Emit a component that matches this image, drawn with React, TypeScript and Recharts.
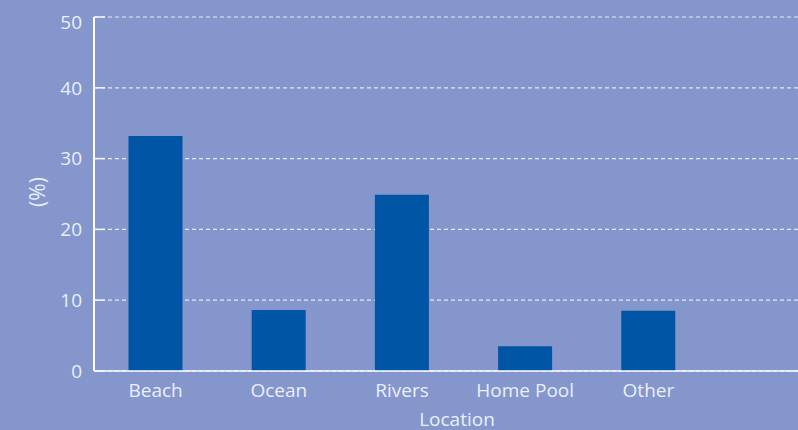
import React from 'react';
import { BarChart, Bar, XAxis, YAxis, CartesianGrid, Label } from 'recharts';

const categories = ['Beach', 'Ocean', 'Rivers', 'Home Pool', 'Other'];
const percentValues = [33.2, 8.6, 24.9, 3.5, 8.5];
const yTicks = [0, 10, 20, 30, 40, 50];

const data = categories.map((name, i) => ({ name, value: percentValues[i] }));

const BG = '#8496CC';
const BAR = '#0055A5';
const TEXT = '#EAEFF9';
const FONT = '"Open Sans", "Noto Sans", sans-serif';
const TICK_MARGIN = 12;

const YTick = (props: any) => {
  const { x, y, payload } = props;
  const axisX = x + TICK_MARGIN;
  const textY = Math.max(y, 22);
  return (
    <g>
      <line x1={axisX} x2={axisX + 11} y1={y} y2={y} stroke="#F2F5FC" strokeWidth={1.5} />
      <text
        x={x}
        y={textY}
        dy="0.36em"
        textAnchor="end"
        fill={TEXT}
        fontSize={19}
        fontFamily={FONT}
      >
        {payload.value}
      </text>
    </g>
  );
};

export default function App() {
  return (
    <div
      style={{
        position: 'fixed',
        left: 0,
        top: 0,
        width: 798,
        height: 430,
        overflow: 'hidden',
        background: BG,
      }}
    >
      <BarChart
        width={798}
        height={430}
        data={data}
        margin={{ top: 17, right: 0, bottom: 0, left: 0 }}
        barCategoryGap="28%"
      >
        <CartesianGrid
          vertical={false}
          stroke="#E4E9F6"
          strokeDasharray="4 3"
          strokeWidth={1.2}
        />
        <XAxis
          dataKey="name"
          height={59}
          padding={{ left: 0, right: 88 }}
          tickLine={false}
          tickSize={0}
          tickMargin={13}
          axisLine={{ stroke: '#FFFFFF', strokeWidth: 1.6 }}
          tick={{ fill: TEXT, fontSize: 19, fontFamily: FONT }}
          interval={0}
        >
          <Label
            value="Location"
            position="insideBottom"
            offset={4}
            dx={11}
            fill={TEXT}
            fontSize={19}
            fontFamily={FONT}
          />
        </XAxis>
        <YAxis
          width={94}
          domain={[0, 50]}
          ticks={yTicks}
          tickLine={false}
          tickSize={0}
          tickMargin={TICK_MARGIN}
          axisLine={{ stroke: '#FFFFFF', strokeWidth: 2 }}
          tick={<YTick />}
          interval={0}
        >
          <Label
            value="(%)"
            angle={-90}
            position="center"
            dx={-9}
            dy={-2}
            fill={TEXT}
            fontSize={21}
            fontFamily={FONT}
          />
        </YAxis>
        <Bar dataKey="value" fill={BAR} isAnimationActive={false} />
      </BarChart>
    </div>
  );
}
